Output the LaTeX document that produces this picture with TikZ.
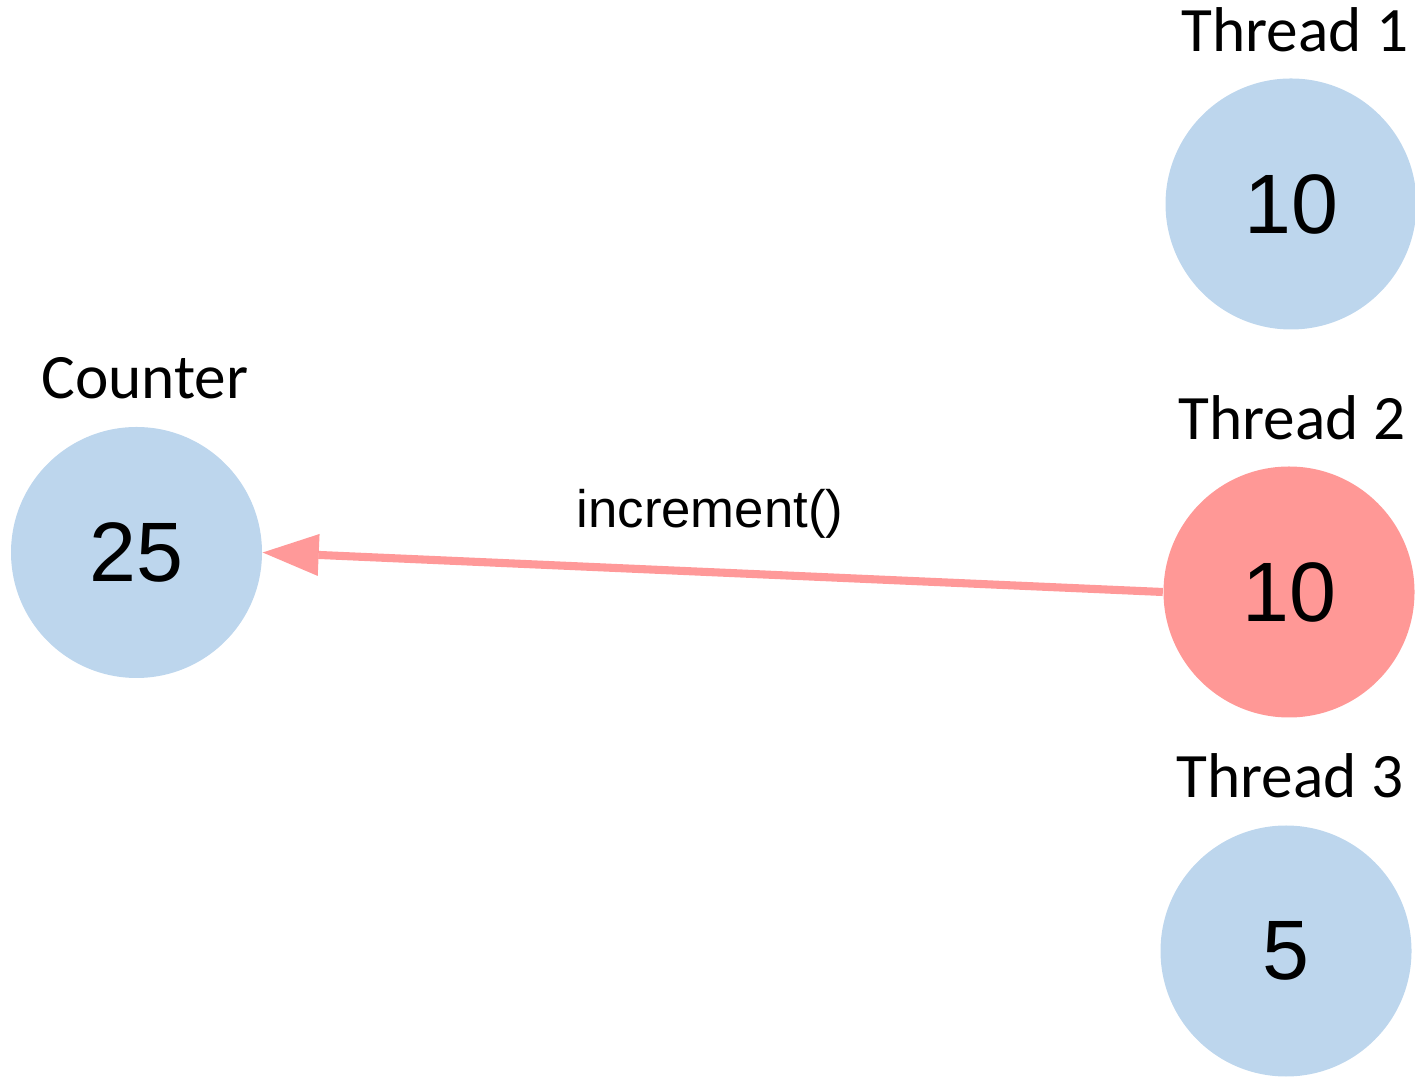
\documentclass[tikz,border=0pt]{standalone}
\usepackage{fontspec}
\setmainfont{Carlito}
\newfontfamily\arialfont{Liberation Sans}
\usetikzlibrary{arrows.meta}

\definecolor{threadblue}{RGB}{189,214,237}
\definecolor{threadred}{RGB}{255,152,150}

\begin{document}
\begin{tikzpicture}[
		ball/.style={circle, minimum size=2.51cm, inner sep=0pt, font=\arialfont\fontsize{24}{28}\selectfont},
		tag/.style={anchor=base, font=\fontsize{18}{22}\selectfont}]
		\useasboundingbox (0,0) rectangle (14.15,-10.78);

		% Circles
		\node[ball, fill=threadblue] (counter) at (1.365,-5.525) {25};
		\node[ball, fill=threadblue] (thread1) at (12.91,-2.04) {10};
		\node[ball, fill=threadred] (thread2) at (12.89,-5.92) {10};
		\node[ball, fill=threadblue] (thread3) at (12.86,-9.51) {5};

		% Labels above circles
		\node[tag] (counterlbl) at (1.45,-3.99) {Counter};
		\node[tag] (thread1lbl) at (12.95,-0.52) {Thread 1};
		\node[tag] (thread2lbl) at (12.92,-4.40) {Thread 2};
		\node[tag] (thread3lbl) at (12.90,-7.98) {Thread 3};

		% increment() call
		\draw[red, opacity=0.4, line width=2.3pt, -{Triangle[length=0.56cm, width=0.42cm, line width=0pt]}] (thread2.west) -- (counter.east);
		\node[anchor=base, font=\arialfont\fontsize{15}{18}\selectfont] (calllbl) at (7.1,-5.28) {increment()};
	\end{tikzpicture}
\end{document}
